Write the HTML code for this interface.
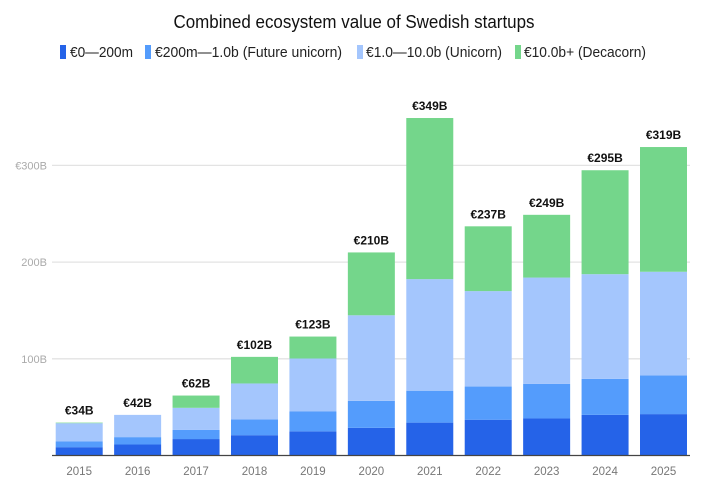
<!DOCTYPE html>
<html><head><meta charset="utf-8">
<style>
html,body{margin:0;padding:0;background:#fff;}
svg{display:block;font-family:"Liberation Sans",sans-serif;}
</style></head>
<body>
<svg id="chart" width="705" height="484" viewBox="0 0 705 484">
<text x="354" y="28" text-anchor="middle" font-size="18" fill="#111" textLength="361" lengthAdjust="spacingAndGlyphs">Combined ecosystem value of Swedish startups</text>
<g>
<g><rect x="60" y="45" width="6" height="14" fill="#2563e8"/><text x="70" y="57" font-size="15" fill="#222" textLength="63" lengthAdjust="spacingAndGlyphs">€0—200m</text></g>
<g><rect x="145" y="45" width="6" height="14" fill="#549cfc"/><text x="155" y="57" font-size="15" fill="#222" textLength="187" lengthAdjust="spacingAndGlyphs">€200m—1.0b (Future unicorn)</text></g>
<g><rect x="357" y="45" width="6" height="14" fill="#a4c6fd"/><text x="366" y="57" font-size="15" fill="#222" textLength="136" lengthAdjust="spacingAndGlyphs">€1.0—10.0b (Unicorn)</text></g>
<g><rect x="515" y="45" width="6" height="14" fill="#74d68b"/><text x="524" y="57" font-size="15" fill="#222" textLength="122" lengthAdjust="spacingAndGlyphs">€10.0b+ (Decacorn)</text></g>
</g>
<g id="grid"></g>
<g id="bars"></g>
<g id="labels"></g>
</svg>
<script>
const years = ["2015","2016","2017","2018","2019","2020","2021","2022","2023","2024","2025"];
const seed = [8.6,11.4,17,21,25,28.6,34,37,38.3,42,42.8];
const futureUnicorn = [5.9,7.6,9.6,16.2,20.5,27.9,33,34.3,35.7,37.3,39.9];
const unicorn = [18.9,23,22.7,37.3,54.8,88.5,115.4,98.7,110,108.2,107.3];
const decacorn = [0.6,0,12.7,27.5,22.7,65,166.6,67,64.9,107.5,129];
const totalLabels = ["€34B","€42B","€62B","€102B","€123B","€210B","€349B","€237B","€249B","€295B","€319B"];
const yTicks = [100,200,300];
const yTickLabels = ["100B","200B","€300B"];

const NS="http://www.w3.org/2000/svg";
const baseY=455.5, pxPerB=0.967, x0=55.7, step=58.43, bw=47;
const yS=v=>baseY-v*pxPerB;
const xS=i=>x0+i*step;
function mk(tag,attrs,parent){const e=document.createElementNS(NS,tag);for(const k in attrs)e.setAttribute(k,attrs[k]);parent.appendChild(e);return e;}
const grid=document.getElementById('grid'),bars=document.getElementById('bars'),labels=document.getElementById('labels');
yTicks.forEach((t,i)=>{
  const l=mk('line',{x1:52,x2:690,y1:yS(t),y2:yS(t),stroke:'#e3e3e3','stroke-width':1.3},grid);
  
  
  const tx=mk('text',{x:47,y:yS(t)+4,'text-anchor':'end','font-size':11,fill:'#aaa'},grid);
  tx.textContent=yTickLabels[i];
  
  
});
const series=[seed,futureUnicorn,unicorn,decacorn];
const colors=['#2563e8','#549cfc','#a4c6fd','#74d68b'];
const names=['seed','future-unicorn','unicorn','decacorn'];
years.forEach((yr,i)=>{
  let cum=0;
  series.forEach((s,k)=>{
    const v=s[i]; if(v<=0){return;}
    const r=mk('rect',{x:xS(i),y:yS(cum+v),width:bw,height:v*pxPerB,fill:colors[k]},bars);
    
    
    cum+=v;
  });
  const tl=mk('text',{x:xS(i)+bw/2,y:yS(cum)-8,'text-anchor':'middle','font-size':12,'font-weight':'bold',fill:'#111'},labels);
  tl.textContent=totalLabels[i];
  
  
  const xl=mk('text',{x:xS(i)+bw/2,y:475,'text-anchor':'middle','font-size':11.5,fill:'#777'},labels);
  xl.textContent=yr;
  
  
});
const ax=mk('line',{x1:52,x2:690,y1:baseY,y2:baseY,stroke:'#444','stroke-width':1.3},labels);


</script>
</body></html>
